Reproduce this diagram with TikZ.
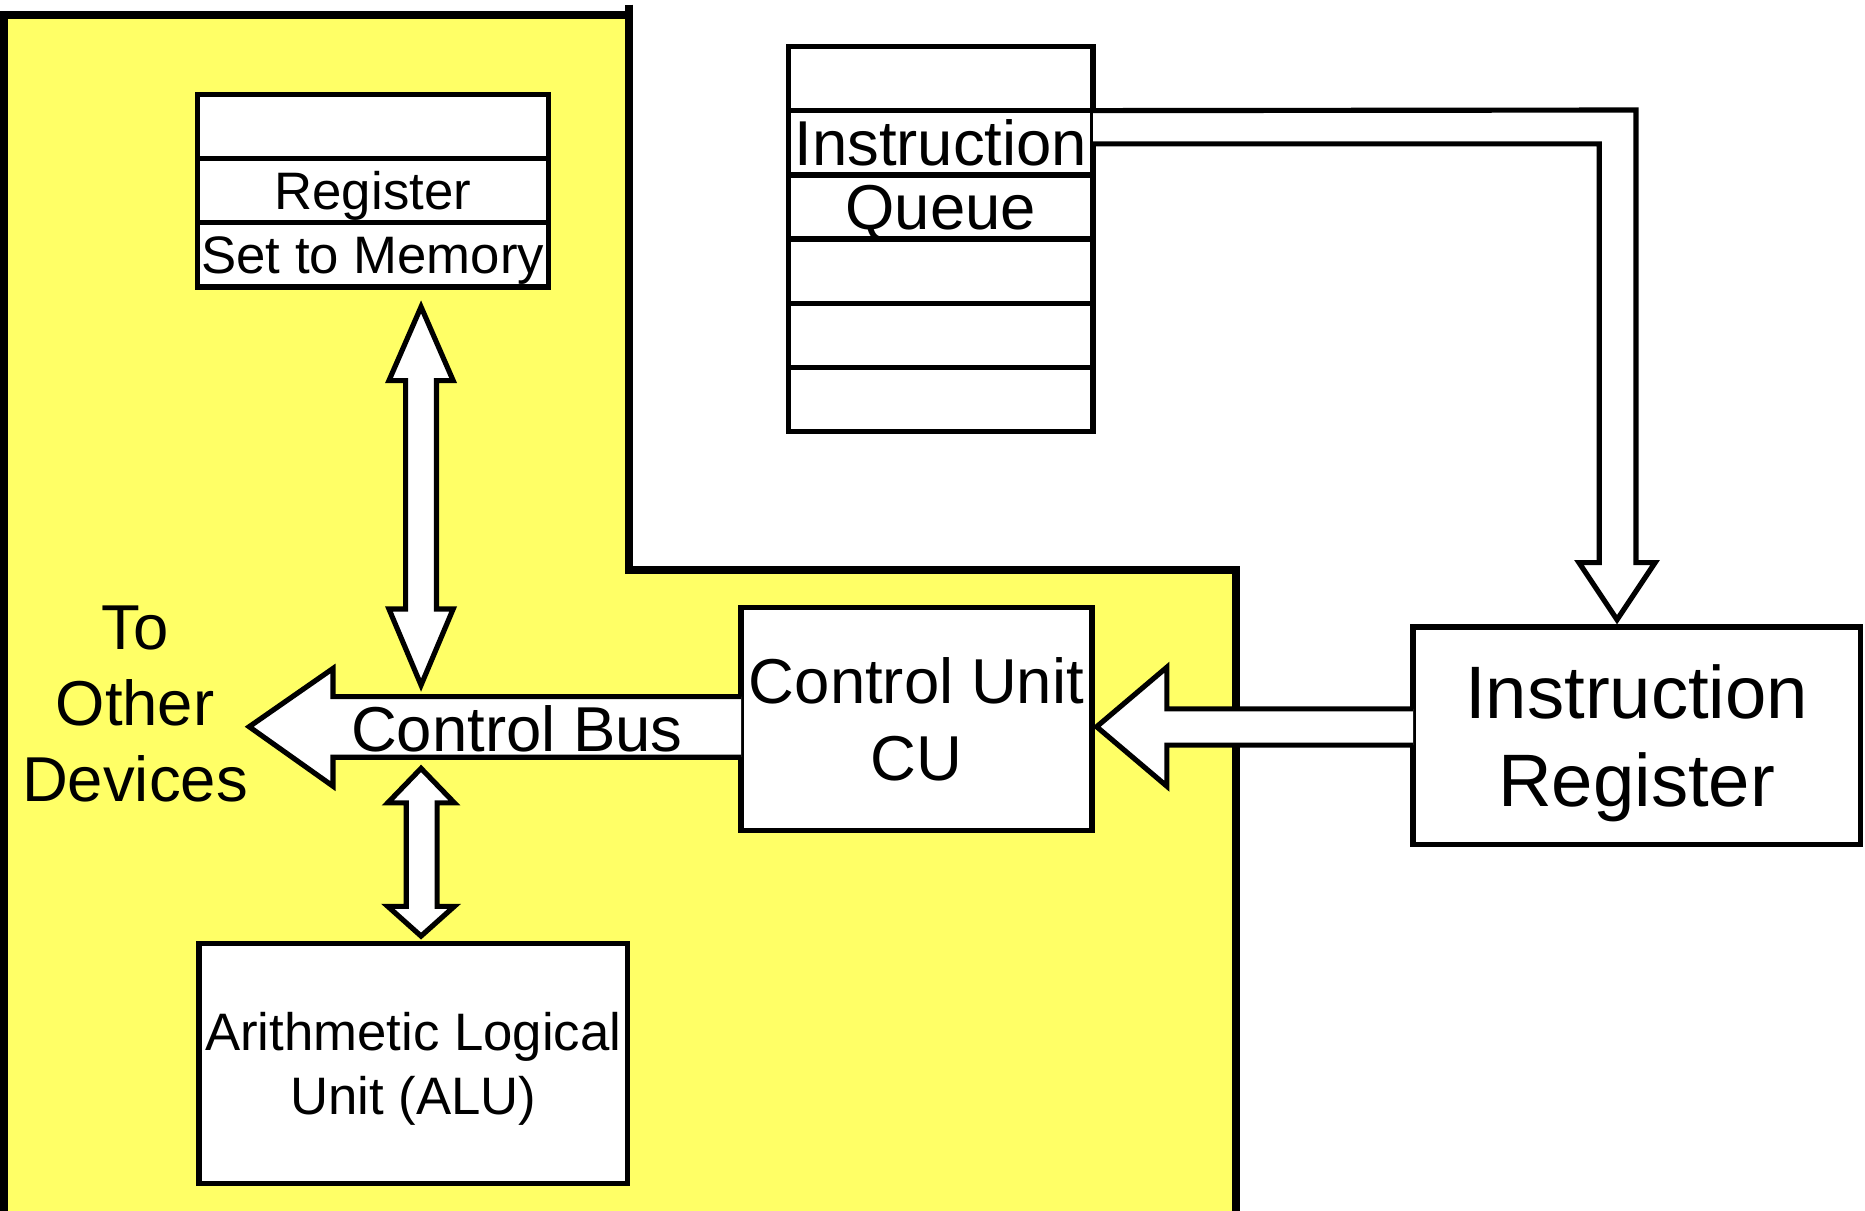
\documentclass[tikz,border=0pt]{standalone}
\usepackage{fontspec}
\setmainfont{Liberation Sans}
\usetikzlibrary{calc}
\definecolor{cpuyellow}{RGB}{255,255,102}
\newcommand\fontS{\fontsize{26.6pt}{32.4pt}\selectfont}
\newcommand\fontM{\fontsize{32pt}{38.4pt}\selectfont}
\newcommand\fontL{\fontsize{37.5pt}{44.6pt}\selectfont}
\begin{document}
\begin{tikzpicture}[x=0.6pt,y=-0.6pt,
  box/.style={draw=black, fill=white, line width=2.7pt, inner sep=0pt, outer sep=0pt, align=center, text depth=0pt},
  regcell/.style={box, minimum width=177pt, minimum height=32.4pt, font=\fontS, text height=19pt},
  qcell/.style={box, minimum width=153.6pt, minimum height=32.4pt, font=\fontM, text height=22.9pt},
  fat/.style={draw=black, fill=white, line width=2.6pt, line join=miter, miter limit=10},
  label/.style={inner sep=0pt, outer sep=0pt, align=center}
]
\useasboundingbox (0,0) rectangle (1568,1018);

% CPU area
\begin{scope}
  \clip (0,0) rectangle (1568,1018);
  \fill[cpuyellow] (3.5,1030) -- (3.5,12.6) -- (529,12.6) -- (529,479) -- (1039,479) -- (1039,1030) -- cycle;
  \draw[line width=4pt, line join=miter] (3.5,1030) -- (3.5,12.6) -- (529,12.6) -- (529,479) -- (1039,479) -- (1039,1030);
  \draw[line width=4pt] (529,4) -- (529,12.6);
\end{scope}

% register set
\node[regcell] (reg1) at (313.4,106.6) {};
\node[regcell] (reg2) at (313.4,160.4) {Register};
\node[regcell] (reg3) at (313.4,214.3) {Set to Memory};

% instruction queue
\node[qcell] (q1) at (791,66) {};
\node[qcell] (q2) at (791,120) {Instruction};
\node[qcell] (q3) at (791,174) {Queue};
\node[qcell] (q4) at (791,228) {};
\node[qcell] (q5) at (791,282) {};
\node[qcell] (q6) at (791,336) {};

% main units
\node[box, minimum width=225.6pt, minimum height=109.8pt, font=\fontL] (ir) at (1376,618.5) {Instruction\\Register};
\node[box, minimum width=177pt, minimum height=112.5pt, font=\fontM] (cu) at (770.5,604.5) {Control Unit\\CU};
\node[box, minimum width=216.3pt, minimum height=121.2pt, font=\fontS] (alu) at (347.5,894) {Arithmetic Logical\\Unit (ALU)};

% connection points on the bus
\coordinate (regport) at (354,258);
\coordinate (busup) at (354,576);
\coordinate (busdown) at (354,646);
\coordinate (aluport) at (354,787);

% queue -> instruction register
\draw[fat] (q2.north east) -- (1375.5,92.5) -- (1375.5,473) -- (1391.5,473)
  -- ($(ir.north -| 1359.5,0)+(0,-6)$) -- (1327.5,473) -- (1344.5,473) -- (1344.5,121) -- (q2.east |- 0,121);

% instruction register -> control unit
\draw[fat] (ir.west |- 0,596) -- (981,596) -- (981,561) -- ($(cu.east |- 0,611)+(4,0)$)
  -- (981,661) -- (981,626.5) -- (ir.west |- 0,626.5);

% control bus to other devices
\draw[fat] (cu.west |- 0,585.7) -- (280,585.7) -- (280,562) -- (209.5,611) -- (280,661)
  -- (280,636.6) -- (cu.west |- 0,636.6);
\node[label, font=\fontM, text height=22.9pt, text depth=0pt] (bus) at (434.5,613) {Control Bus};

% register set <-> bus
\draw[fat] (regport) -- (381,320) -- (367,320) -- (367,512) -- (381,512) -- (busup)
  -- (327,512) -- (341,512) -- (341,320) -- (327,320) -- cycle;

% bus <-> ALU
\draw[fat] (busdown) -- (382,675) -- (367.5,675) -- (367.5,762) -- (382,762) -- (aluport)
  -- (326,762) -- (341.5,762) -- (341.5,675) -- (326,675) -- cycle;

% side note
\node[label, font=\fontM] (others) at (113.5,592) {To\\Other\\Devices};
\end{tikzpicture}
\end{document}
